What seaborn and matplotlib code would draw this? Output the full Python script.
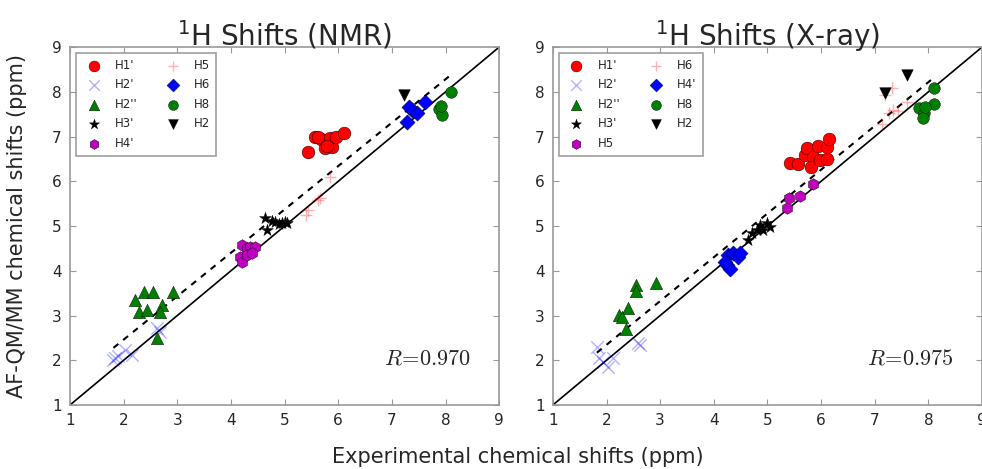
import numpy as np
import matplotlib
matplotlib.use("Agg")
import matplotlib.pyplot as plt
import seaborn as sns

# ---- NMR panel data (experimental, AF-QM/MM) ----
nmr_labels = ["H1'", "H2'", "H2''", "H3'", "H4'", "H5", "H6", "H8", "H2"]
nmr_h1p_exp = [5.43, 5.57, 5.68, 5.76, 5.84, 5.88, 5.96, 6.10, 5.62, 5.80]
nmr_h1p_calc = [6.66, 7.00, 6.94, 6.74, 6.96, 6.77, 6.98, 7.09, 6.98, 6.80]
nmr_h2p_exp = [1.81, 1.84, 2.03, 2.15, 2.62, 2.68, 1.90]
nmr_h2p_calc = [2.01, 2.04, 2.23, 2.12, 2.71, 2.64, 2.10]
nmr_h2pp_exp = [2.21, 2.37, 2.54, 2.92, 2.29, 2.43, 2.71, 2.68, 2.62]
nmr_h2pp_calc = [3.35, 3.53, 3.53, 3.52, 3.08, 3.12, 3.23, 3.08, 2.49]
nmr_h3p_exp = [4.64, 4.67, 4.82, 4.95, 5.04, 4.89, 4.76, 5.00]
nmr_h3p_calc = [5.19, 4.91, 5.10, 5.06, 5.07, 5.04, 5.12, 5.10]
nmr_h4p_exp = [4.20, 4.30, 4.36, 4.45, 4.17, 4.20, 4.30, 4.39]
nmr_h4p_calc = [4.58, 4.50, 4.54, 4.54, 4.31, 4.20, 4.35, 4.39]
nmr_h5_exp = [5.40, 5.44, 5.62, 5.66, 5.85]
nmr_h5_calc = [5.25, 5.35, 5.58, 5.62, 6.10]
nmr_h6_exp = [7.28, 7.37, 7.47, 7.61, 7.32]
nmr_h6_calc = [7.33, 7.59, 7.52, 7.78, 7.67]
nmr_h8_exp = [8.11, 7.87, 7.93, 7.92]
nmr_h8_calc = [8.00, 7.61, 7.48, 7.68]
nmr_h2_exp = [7.22]
nmr_h2_calc = [7.93]

# ---- X-ray panel data ----
xray_labels = ["H1'", "H2'", "H2''", "H3'", "H5", "H6", "H4'", "H8", "H2"]
xray_h1p_exp = [5.42, 5.57, 5.70, 5.73, 5.85, 5.82, 5.95, 5.98, 6.11, 6.14, 6.11]
xray_h1p_calc = [6.40, 6.39, 6.59, 6.74, 6.55, 6.33, 6.79, 6.48, 6.76, 6.94, 6.51]
xray_h2p_exp = [1.82, 1.86, 1.94, 2.03, 2.12, 2.59, 2.62]
xray_h2p_calc = [2.30, 2.04, 1.97, 1.84, 2.04, 2.38, 2.34]
xray_h2pp_exp = [2.55, 2.55, 2.92, 2.40, 2.24, 2.28, 2.36]
xray_h2pp_calc = [3.68, 3.55, 3.72, 3.16, 3.01, 2.97, 2.70]
xray_h3p_exp = [4.71, 4.86, 4.92, 4.99, 5.05, 4.80, 4.64]
xray_h3p_calc = [4.84, 5.02, 4.91, 5.06, 4.98, 4.91, 4.69]
xray_h5_exp = [5.36, 5.41, 5.61, 5.85]
xray_h5_calc = [5.40, 5.62, 5.67, 5.95]
xray_h6_exp = [7.13, 7.26, 7.35, 7.44, 7.60, 7.32, 7.19]
xray_h6_calc = [7.29, 7.53, 7.59, 7.58, 7.78, 8.08, 7.93]
xray_h4p_exp = [4.27, 4.36, 4.46, 4.24, 4.30, 4.49, 4.21]
xray_h4p_calc = [4.35, 4.39, 4.31, 4.13, 4.05, 4.39, 4.20]
xray_h8_exp = [8.11, 7.82, 7.91, 7.90, 8.11, 7.94]
xray_h8_calc = [8.08, 7.63, 7.52, 7.41, 7.72, 7.67]
xray_h2_exp = [7.19, 7.60]
xray_h2_calc = [7.97, 8.37]

nmr_r = 0.970
xray_r = 0.975

# marker, color, alpha, size -- by position in the legend
styles = [
    ("o", "#ff0000", 1.0, 85),
    ("x", "#0000ff", 0.3, 80),
    ("^", "#008000", 1.0, 80),
    ("*", "#000000", 1.0, 80),
    ("h", "#bf00bf", 1.0, 70),
    ("+", "#ff0000", 0.3, 80),
    ("D", "#0000ff", 1.0, 60),
    ("o", "#008000", 1.0, 70),
    ("v", "#000000", 1.0, 70),
]


def draw_panel(ax, labels, exps, calcs, title, r_value):
    ax.plot([1, 9], [1, 9], color="k", lw=1.2, zorder=2)
    all_x = np.concatenate([np.asarray(e) for e in exps])
    all_y = np.concatenate([np.asarray(c) for c in calcs])
    slope, icpt = np.polyfit(all_x, all_y, 1)
    xs = np.array([all_x.min(), all_x.max()])
    ax.plot(xs, slope * xs + icpt, color="k", lw=1.5, ls="--", dashes=(3, 3), zorder=2)

    for label, ex, ca, (mk, col, al, sz) in zip(labels, exps, calcs, styles):
        if mk in ("x", "+"):
            sns.scatterplot(x=ex, y=ca, marker=mk, color=col, alpha=al, s=sz,
                            linewidth=1.0, label=label, ax=ax, zorder=3)
        else:
            sns.scatterplot(x=ex, y=ca, marker=mk, color=col, alpha=al, s=sz,
                            edgecolor="k", linewidth=0.3, label=label, ax=ax, zorder=3)

    ax.set_xlim(1, 9)
    ax.set_ylim(1, 9)
    ax.set_xticks(range(1, 10))
    ax.set_yticks(range(1, 10))
    ax.tick_params(direction="in", top=True, right=True, length=4, color="#999999",
                   labelsize=11, pad=6)
    for sp in ax.spines.values():
        sp.set_color("#999999")
        sp.set_linewidth(1.2)
    ax.set_title(title, fontsize=20, pad=1)
    ax.text(0.935, 0.13, r"$R\!=\!%.3f$" % r_value, transform=ax.transAxes,
            ha="right", va="center", fontsize=16, math_fontfamily="cm")
    leg = ax.legend(loc="upper left", ncol=2, fontsize=8.5, markerscale=0.85,
                    scatterpoints=1, fancybox=False, borderaxespad=0.5,
                    columnspacing=2.0, handletextpad=0.8, borderpad=0.5,
                    labelspacing=0.55)
    leg.get_frame().set_edgecolor("#888888")
    leg.get_frame().set_linewidth(1.2)
    ax.set_xlabel("")
    ax.set_ylabel("")


sns.set_style("ticks")
plt.rcParams["font.family"] = ["DejaVu Sans"]

fig = plt.figure(figsize=(9.82, 4.69), dpi=100)
ax1 = fig.add_axes([0.0713, 0.1365, 0.437, 0.763])
ax2 = fig.add_axes([0.563, 0.1365, 0.437, 0.763])

draw_panel(ax1, nmr_labels,
           [nmr_h1p_exp, nmr_h2p_exp, nmr_h2pp_exp, nmr_h3p_exp, nmr_h4p_exp,
            nmr_h5_exp, nmr_h6_exp, nmr_h8_exp, nmr_h2_exp],
           [nmr_h1p_calc, nmr_h2p_calc, nmr_h2pp_calc, nmr_h3p_calc, nmr_h4p_calc,
            nmr_h5_calc, nmr_h6_calc, nmr_h8_calc, nmr_h2_calc],
           r"$^1$H Shifts (NMR)", nmr_r)
draw_panel(ax2, xray_labels,
           [xray_h1p_exp, xray_h2p_exp, xray_h2pp_exp, xray_h3p_exp, xray_h5_exp,
            xray_h6_exp, xray_h4p_exp, xray_h8_exp, xray_h2_exp],
           [xray_h1p_calc, xray_h2p_calc, xray_h2pp_calc, xray_h3p_calc, xray_h5_calc,
            xray_h6_calc, xray_h4p_calc, xray_h8_calc, xray_h2_calc],
           r"$^1$H Shifts (X-ray)", xray_r)

ax1.set_ylabel("AF-QM/MM chemical shifts (ppm)", fontsize=15, labelpad=18)
fig.text(0.527, 0.025, "Experimental chemical shifts (ppm)", ha="center",
         va="center", fontsize=15)

fig.savefig("out.png", dpi=100)
